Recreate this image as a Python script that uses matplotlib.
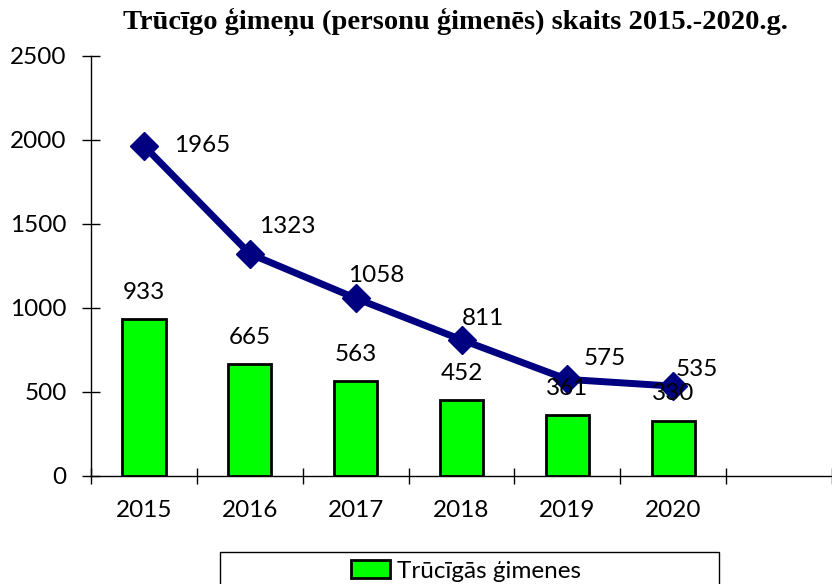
import matplotlib
matplotlib.use("Agg")
import matplotlib.pyplot as plt
from matplotlib.patches import Rectangle

plt.rcParams['font.family'] = ['Lato', 'DejaVu Sans']

years = ['2015', '2016', '2017', '2018', '2019', '2020']
gimenes = [933, 665, 563, 452, 361, 330]
personas = [1965, 1323, 1058, 811, 575, 535]
# label offsets (pixels) for the line values, left edge / vertical centre
line_lbl_off = [(30, 0), (9, 27), (-8, 23), (0, 21), (16, 21), (2, 17)]

fs = 17.5

fig = plt.figure(figsize=(8.32, 5.84), dpi=100)
ax = fig.add_axes([91 / 832, 108 / 584, 741 / 832, 420 / 584])

x = list(range(len(years)))
bars = ax.bar(x, gimenes, width=0.41, color='#00ff00', edgecolor='black', linewidth=2,
              label='Trūcīgās ģimenes', zorder=2)
ax.plot(x, personas, color='#000080', linewidth=5, marker='D', markersize=14,
        label='Personas trūcīgās ģimenēs', zorder=3)

for i, v in enumerate(gimenes):
    ax.annotate(str(v), (i, v), xytext=(0, 27), textcoords='offset pixels',
                ha='center', va='center', fontsize=fs, zorder=4)
for i, v in enumerate(personas):
    dx, dy = line_lbl_off[i]
    ax.annotate(str(v), (i, v), xytext=(dx, dy), textcoords='offset pixels',
                ha='left', va='center', fontsize=fs, zorder=4)

ax.set_xlim(-0.5, 6.5)
ax.set_ylim(0, 2500)
ax.set_yticks(range(0, 2501, 500))
ax.set_xticks(x)
ax.set_xticklabels(years)
ax.set_xticks([i - 0.5 for i in range(8)], minor=True)
ax.tick_params(axis='x', which='major', length=0, pad=17, labelsize=fs)
ax.tick_params(axis='x', which='minor', direction='inout', length=12, width=1)
ax.tick_params(axis='y', direction='inout', length=13, width=1, pad=11, labelsize=fs)

for s in ['top', 'right']:
    ax.spines[s].set_visible(False)
ax.spines['left'].set_linewidth(1)
ax.spines['bottom'].set_linewidth(1)

fig.text(455 / 832, 1 - 22 / 584, 'Trūcīgo ģimeņu (personu ģimenēs) skaits 2015.-2020.g.',
         ha='center', va='center', fontsize=20.5, fontweight='bold',
         family=['Liberation Serif', 'DejaVu Serif'])

# legend box (cut off by the lower edge, as in the original)
fig.patches.append(Rectangle((220 / 832, -0.05), 499 / 832, 0.05 + 32 / 584,
                             transform=fig.transFigure, fill=False,
                             edgecolor='black', linewidth=1))
fig.legend([bars], ['Trūcīgās ģimenes'], loc='center',
           bbox_to_anchor=(466 / 832, 1 - 571 / 584),
           frameon=False, fontsize=fs, handlelength=1.6, handleheight=0.7,
           handletextpad=0.3)

fig.savefig('out.png', dpi=100)
